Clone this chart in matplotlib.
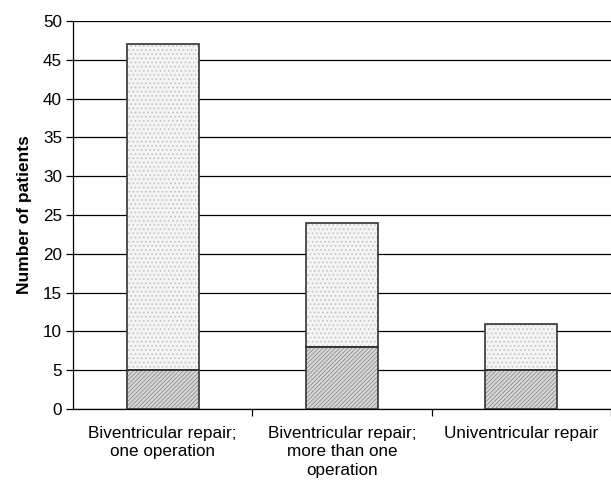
import matplotlib.pyplot as plt
import numpy as np

plt.rcParams['font.family'] = ['Liberation Sans', 'DejaVu Sans']
plt.rcParams['hatch.linewidth'] = 0.6

categories = ['Biventricular repair;\none operation',
              'Biventricular repair;\nmore than one\noperation',
              'Univentricular repair']
bottom_vals = [5, 8, 5]
top_vals = [42, 16, 6]

fig = plt.figure(figsize=(6.11, 4.84), dpi=100)
ax = fig.add_axes([0.1195, 0.155, 0.8805, 0.8016])

x = np.arange(len(categories))
w = 0.4

# hatched fills
ax.bar(x, bottom_vals, w, color='#d9d9d9', edgecolor='#8a8a8a', hatch='////////', linewidth=0, zorder=3)
ax.bar(x, top_vals, w, bottom=bottom_vals, color='#f4f4f4', edgecolor='#bdbdbd', hatch='....', linewidth=0, zorder=3)
# outlines
ax.bar(x, bottom_vals, w, fill=False, edgecolor='#333333', linewidth=1.2, zorder=4)
ax.bar(x, top_vals, w, bottom=bottom_vals, fill=False, edgecolor='#333333', linewidth=1.2, zorder=4)

ax.set_xlim(-0.5, 2.5)
ax.set_ylim(0, 50)
ax.set_yticks(range(0, 51, 5))
ax.yaxis.grid(True, color='black', linewidth=0.9)
ax.set_axisbelow(True)

ax.set_xticks(x)
ax.set_xticklabels(categories, fontsize=12.3, linespacing=1.3)
ax.tick_params(axis='x', length=0, pad=12)
ax.set_xticks([0.5, 1.5, 2.5], minor=True)
ax.tick_params(axis='x', which='minor', length=5, width=0.9)
ax.tick_params(axis='y', labelsize=12.3, length=5, width=0.9, pad=3)

ax.set_ylabel('Number of patients', fontsize=12.5, fontweight='bold', labelpad=8)

for s in ['top', 'right']:
    ax.spines[s].set_visible(False)
ax.spines['left'].set_linewidth(0.9)
ax.spines['bottom'].set_linewidth(0.9)

fig.savefig('out.png', dpi=100)
